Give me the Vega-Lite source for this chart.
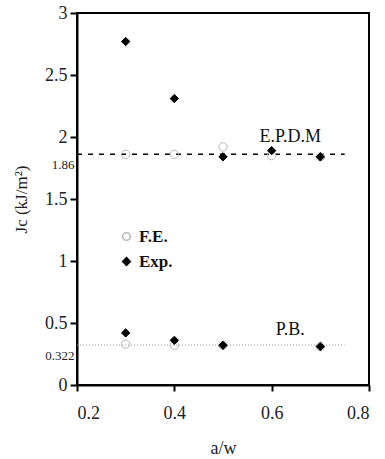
{
  "$schema": "https://vega.github.io/schema/vega-lite/v6.json",
  "width": 292,
  "height": 372,
  "autosize": "none",
  "padding": {"left": 77, "top": 13, "right": 16, "bottom": 74},
  "config": {
    "view": {"stroke": "black", "strokeWidth": 2},
    "font": "Liberation Serif",
    "axis": {"labelFont": "Liberation Serif", "titleFont": "Liberation Serif"},
    "legend": {"labelFont": "Liberation Serif"},
    "text": {"font": "Liberation Serif"}
  },
  "datasets": {
    "pts": [
      {"aw": 0.3, "jc": 1.86, "series": "F.E."},
      {"aw": 0.4, "jc": 1.86, "series": "F.E."},
      {"aw": 0.5, "jc": 1.92, "series": "F.E."},
      {"aw": 0.6, "jc": 1.85, "series": "F.E."},
      {"aw": 0.7, "jc": 1.84, "series": "F.E."},
      {"aw": 0.3, "jc": 0.33, "series": "F.E."},
      {"aw": 0.4, "jc": 0.32, "series": "F.E."},
      {"aw": 0.5, "jc": 0.32, "series": "F.E."},
      {"aw": 0.7, "jc": 0.31, "series": "F.E."},
      {"aw": 0.3, "jc": 2.77, "series": "Exp."},
      {"aw": 0.4, "jc": 2.31, "series": "Exp."},
      {"aw": 0.5, "jc": 1.84, "series": "Exp."},
      {"aw": 0.6, "jc": 1.89, "series": "Exp."},
      {"aw": 0.7, "jc": 1.84, "series": "Exp."},
      {"aw": 0.3, "jc": 0.42, "series": "Exp."},
      {"aw": 0.4, "jc": 0.36, "series": "Exp."},
      {"aw": 0.5, "jc": 0.32, "series": "Exp."},
      {"aw": 0.7, "jc": 0.31, "series": "Exp."}
    ],
    "lines": [
      {"material": "E.P.D.M", "x1": 0.2, "x2": 0.75, "y": 1.86},
      {"material": "P.B.", "x1": 0.2, "x2": 0.75, "y": 0.322}
    ],
    "labels": [
      {"text": "E.P.D.M", "aw": 0.638, "jc": 2.0},
      {"text": "P.B.", "aw": 0.638, "jc": 0.44}
    ]
  },
  "layer": [
    {
      "data": {"name": "lines"},
      "transform": [{"filter": "datum.material == 'E.P.D.M'"}],
      "mark": {"type": "rule", "color": "black", "strokeWidth": 1.5, "strokeDash": [5, 6]},
      "encoding": {
        "x": {
          "field": "x1", "type": "quantitative",
          "scale": {"domain": [0.2, 0.8], "nice": false, "zero": false},
          "axis": {
            "values": [0.2, 0.4, 0.6, 0.8], "format": ".1f", "grid": false,
            "labelFont": "Liberation Serif",
            "labelFontSize": 18, "labelColor": "#222", "labelPadding": 13,
            "domainColor": "black", "domainWidth": 2,
            "tickColor": "black", "tickWidth": 2, "tickSize": 6,
            "title": "a/w", "titleFont": "Liberation Serif", "titleFontSize": 18,
            "titleFontWeight": "normal", "titleColor": "#222", "titlePadding": 17
          }
        },
        "x2": {"field": "x2"},
        "y": {
          "field": "y", "type": "quantitative",
          "scale": {"domain": [0, 3], "nice": false},
          "axis": {
            "values": [0, 0.322, 0.5, 1, 1.5, 1.86, 2, 2.5, 3], "grid": false,
            "labelExpr": "datum.value == 0.322 ? '0.322' : datum.value == 1.86 ? '1.86' : format(datum.value, '.2~f')",
            "labelFont": "Liberation Serif",
            "labelFontSize": {"condition": {"test": "datum.value == 0.322 || datum.value == 1.86", "value": 13}, "value": 18},
            "labelOffset": {"condition": {"test": "datum.value == 0.322 || datum.value == 1.86", "value": 10}, "value": 0},
            "tickSize": {"condition": {"test": "datum.value == 0.322 || datum.value == 1.86", "value": 0}, "value": 7},
            "labelPadding": 3, "labelColor": "#222",
            "domainColor": "black", "domainWidth": 2,
            "tickColor": "black", "tickWidth": 2,
            "title": "Jc  (kJ/m²)", "titleFont": "Liberation Serif", "titleFontSize": 17,
            "titleFontWeight": "normal", "titleColor": "#222", "titlePadding": 14
          }
        }
      }
    },
    {
      "data": {"name": "lines"},
      "transform": [{"filter": "datum.material == 'P.B.'"}],
      "mark": {"type": "rule", "color": "#999999", "strokeWidth": 1, "strokeDash": [1, 2]},
      "encoding": {
        "x": {"field": "x1", "type": "quantitative"},
        "x2": {"field": "x2"},
        "y": {"field": "y", "type": "quantitative"}
      }
    },
    {
      "data": {"name": "pts"},
      "mark": {"type": "point", "strokeWidth": 1, "opacity": 1, "size": 70},
      "encoding": {
        "x": {"field": "aw", "type": "quantitative"},
        "y": {"field": "jc", "type": "quantitative"},
        "shape": {
          "field": "series", "type": "nominal",
          "scale": {"domain": ["F.E.", "Exp."], "range": ["circle", "diamond"]},
          "legend": {
            "title": null, "orient": "none", "legendX": 41, "legendY": 215,
            "labelFont": "Liberation Serif", "labelFontWeight": "bold", "labelFontSize": 17,
            "labelColor": "#111", "rowPadding": 7, "symbolSize": 60, "labelOffset": 4
          }
        },
        "stroke": {
          "field": "series", "type": "nominal",
          "scale": {"domain": ["F.E.", "Exp."], "range": ["#b8b8b8", "black"]}
        },
        "fill": {
          "field": "series", "type": "nominal",
          "scale": {"domain": ["F.E.", "Exp."], "range": ["rgba(0,0,0,0)", "black"]}
        }
      }
    },
    {
      "data": {"name": "labels"},
      "mark": {"type": "text", "font": "Liberation Serif", "fontSize": 18, "color": "#111", "align": "center", "baseline": "middle"},
      "encoding": {
        "x": {"field": "aw", "type": "quantitative"},
        "y": {"field": "jc", "type": "quantitative"},
        "text": {"field": "text"}
      }
    }
  ]
}
